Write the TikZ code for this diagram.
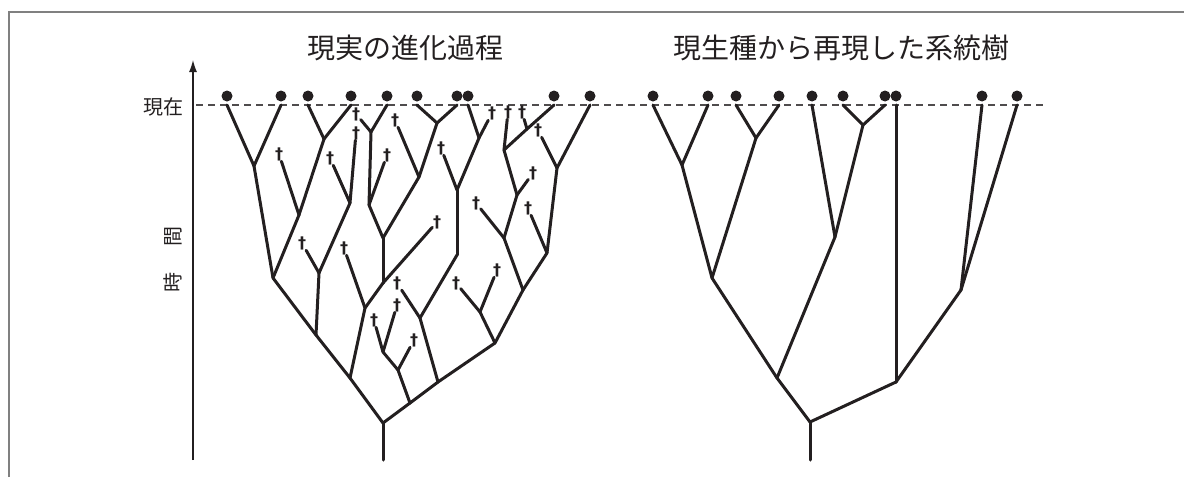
\documentclass[tikz,border=0pt]{standalone}
\usepackage{fontspec}
\newfontfamily\jpfont{Noto Sans CJK JP}
\newfontfamily\dagfont{DejaVu Sans}
\usetikzlibrary{arrows.meta}
\definecolor{ink}{HTML}{231F20}
\definecolor{framegray}{HTML}{808080}
\tikzset{
  title/.style={font=\jpfont\fontsize{28}{28}\selectfont,text=ink},
  axislabel/.style={font=\jpfont\fontsize{20}{20}\selectfont,text=ink},
  axis/.style={draw=ink,line width=1.2pt,-{Latex[length=12pt,width=8pt]}},
  present/.style={draw=ink!80,line width=1.3pt,dash pattern=on 7pt off 5pt}
}
\begin{document}
\begin{tikzpicture}[x=1pt,y=-1pt]
  \useasboundingbox (0,0) rectangle (1184,477);
  \draw[framegray,line width=1.5pt] (9,477) -- (9,12) -- (1184,12);

  % titles and axis
  \node[title] (real) at (405,48) {現実の進化過程};
  \node[title] (recon) at (841,48) {現生種から再現した系統樹};
  \node[axislabel,anchor=east] (nowlabel) at (187,107) {現在};
  \node[axislabel,rotate=90] (timelabel) at (173,259) {時\hspace{26pt}間};
  \coordinate (axbot) at (193,460);
  \coordinate (axtop) at (193,60);
  \draw[axis] (axbot) -- (axtop);
  \coordinate (nowstart) at (196,105);
  \coordinate (nowend) at (1045,105);
  \draw[present] (nowstart) -- (nowend);

  % living species
  \begin{scope}[every node/.style={circle,fill=ink,inner sep=0pt,minimum size=11pt,outer sep=3.5pt}]
  \node (p1) at (227,96) {};
  \node (p2) at (281,96) {};
  \node (p3) at (308,96) {};
  \node (p4) at (351,96) {};
  \node (p5) at (387,96) {};
  \node (p6) at (417,96) {};
  \node (p7) at (457,96) {};
  \node (p8) at (468,96) {};
  \node (p9) at (554,96) {};
  \node (p10) at (590,96) {};
  \node (q1) at (653,96) {};
  \node (q2) at (708,96) {};
  \node (q3) at (736,96) {};
  \node (q4) at (779,96) {};
  \node (q5) at (812,96) {};
  \node (q6) at (843,96) {};
  \node (q7) at (885,96) {};
  \node (q8) at (896,96) {};
  \node (q9) at (982,96) {};
  \node (q10) at (1017,96) {};
  \end{scope}

  % extinct lineages
  \begin{scope}[every node/.style={font=\dagfont\bfseries\fontsize{16}{16}\selectfont,text=ink,inner sep=0.5pt}]
  \node (d1) at (279,154) {†};
  \node (d2) at (330,158) {†};
  \node (d3) at (356,114) {†};
  \node (d4) at (356,133) {†};
  \node (d5) at (387,155) {†};
  \node (d6) at (395,120) {†};
  \node (d7) at (441,148) {†};
  \node (d8) at (492,113) {†};
  \node (d9) at (508,112) {†};
  \node (d10) at (522,112) {†};
  \node (d11) at (538,130) {†};
  \node (d12) at (533,173) {†};
  \node (d13) at (476,203) {†};
  \node (d14) at (528,208) {†};
  \node (d15) at (437,222) {†};
  \node (d16) at (302,243) {†};
  \node (d17) at (344,248) {†};
  \node (d18) at (397,283) {†};
  \node (d19) at (456,283) {†};
  \node (d20) at (497,270) {†};
  \node (d21) at (374,320) {†};
  \node (d22) at (397,305) {†};
  \node (d23) at (414,340) {†};
  \end{scope}

  % branching points, real history
  \coordinate (j1) at (254,166);
  \coordinate (j2) at (273,278);
  \coordinate (j3) at (299,215);
  \coordinate (j4) at (324,139);
  \coordinate (j5) at (319,273);
  \coordinate (j6) at (350,203);
  \coordinate (j7) at (371,132);
  \coordinate (j8) at (369,205);
  \coordinate (j9) at (383,238);
  \coordinate (j10) at (419,177);
  \coordinate (j11) at (437,123);
  \coordinate (j12) at (479,138);
  \coordinate (j13) at (457,190);
  \coordinate (bend) at (457,255);
  \coordinate (j14) at (420,318);
  \coordinate (j15) at (438,382);
  \coordinate (j16) at (495,343);
  \coordinate (j17) at (410,403);
  \coordinate (j18) at (398,370);
  \coordinate (j19) at (383,352);
  \coordinate (j21) at (365,308);
  \coordinate (j22) at (383,283);
  \coordinate (j23) at (504,150);
  \coordinate (j24) at (517,195);
  \coordinate (j25) at (504,238);
  \coordinate (j26) at (523,290);
  \coordinate (j27) at (557,168);
  \coordinate (j28) at (547,253);
  \coordinate (j29) at (480,312);
  \coordinate (j30) at (527,129);
  \coordinate (t1) at (316,335);
  \coordinate (t2) at (350,378);
  \coordinate (root) at (383,423);
  \coordinate (rootbase) at (383,460);

  % branching points, reconstructed tree
  \coordinate (k1) at (682,165);
  \coordinate (k2) at (756,138);
  \coordinate (k3) at (712,278);
  \coordinate (k4) at (777,378);
  \coordinate (k5) at (835,237);
  \coordinate (k6) at (863,125);
  \coordinate (k7) at (810,422);
  \coordinate (k7base) at (810,460);
  \coordinate (k8) at (896,382);
  \coordinate (k9) at (961,290);

  \begin{scope}[every edge/.style={draw=ink,line width=3pt,line cap=round}]
  \path (p1.south) edge (j1);
  \path (p2.south) edge (j1);
  \path (j1) edge (j2);
  \path (p3.south) edge (j4);
  \path (p4.south) edge (j4);
  \path (j4) edge (j3);
  \path (d1) edge (j3);
  \path (j3) edge (j2);
  \path (j2) edge (t1);
  \path (t1) edge (t2);
  \path (t2) edge (root);
  \path (root) edge (rootbase);
  \path (j5) edge (t1);
  \path (d16) edge (j5);
  \path (j6) edge (j5);
  \path (d2) edge (j6);
  \path (d4) edge (j6);
  \path (d3) edge (j7);
  \path (p5.south) edge (j7);
  \path (j7) edge (j8);
  \path (d5) edge (j8);
  \path (j8) edge (j9);
  \path (d6) edge (j10);
  \path (p6.south) edge (j11);
  \path (p7.south) edge (j11);
  \path (j11) edge (j10);
  \path (j10) edge (j9);
  \path (j9) edge (j22);
  \path (d15) edge (j22);
  \path (j22) edge (j21);
  \path (d17) edge (j21);
  \path (j21) edge (t2);
  \path (p8.south) edge (j12);
  \path (d8) edge (j12);
  \path (j12) edge (j13);
  \path (d7) edge (j13);
  \path (j13) edge (bend);
  \path (bend) edge (j14);
  \path (d18) edge (j14);
  \path (j14) edge (j15);
  \path (root) edge (j17);
  \path (j17) edge (j15);
  \path (j15) edge (j16);
  \path (j17) edge (j18);
  \path (d23) edge (j18);
  \path (j18) edge (j19);
  \path (d21) edge (j19);
  \path (d22) edge (j19);
  \path (j16) edge (j29);
  \path (d19) edge (j29);
  \path (d20) edge (j29);
  \path (j16) edge (j26);
  \path (j26) edge (j25);
  \path (j26) edge (j28);
  \path (d13) edge (j25);
  \path (j25) edge (j24);
  \path (d12) edge (j24);
  \path (j24) edge (j23);
  \path (d9) edge (j23);
  \path (j23) edge (j30);
  \path (j30) edge (p9.south);
  \path (d10) edge (j30);
  \path (d14) edge (j28);
  \path (j28) edge (j27);
  \path (d11) edge (j27);
  \path (j27) edge (p10.south);
  % reconstructed
  \path (q1.south) edge (k1);
  \path (q2.south) edge (k1);
  \path (q3.south) edge (k2);
  \path (q4.south) edge (k2);
  \path (k1) edge (k3);
  \path (k2) edge (k3);
  \path (k3) edge (k4);
  \path (q5.south) edge (k5);
  \path (q6.south) edge (k6);
  \path (q7.south) edge (k6);
  \path (k6) edge (k5);
  \path (k5) edge (k4);
  \path (k4) edge (k7);
  \path (k7) edge (k7base);
  \path (k7) edge (k8);
  \path (k8) edge (q8.south);
  \path (k8) edge (k9);
  \path (k9) edge (q9.south);
  \path (k9) edge (q10.south);
  \end{scope}
\end{tikzpicture}
\end{document}
